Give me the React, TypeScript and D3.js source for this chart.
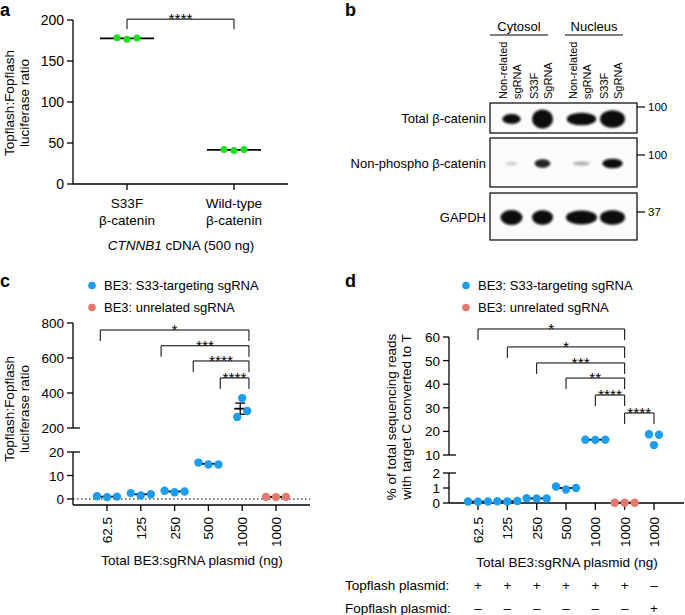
import React from "react";
import * as d3 from "d3";

const FONT = "'Liberation Sans', Arial, Helvetica, sans-serif";
const BLUE = "#1e9cf0";
const SALMON = "#e6776b";
const GREEN = "#1fe01f";

// ---------- Panel a ----------
const aLine1 = ["S33F", "Wild-type"];
const aLine2 = ["β-catenin", "β-catenin"];
const aValues = [[178.5, 176.5, 178], [42, 41, 42]];
const aTicks = [0, 50, 100, 150, 200];
const aBrackets = [{ from: 0, to: 1, level: 201, label: "****" }];

// ---------- Panel b ----------
const bGroups = ["Cytosol", "Nucleus"];
const bLaneLine1 = ["Non-related", "S33F"];
const bLaneLine2 = ["sgRNA", "SgRNA"];
const bBlots = ["Total β-catenin", "Non-phospho β-catenin", "GAPDH"];
const bMarkers = ["100", "100", "37"];
const bIntensity = [
  [0.45, 1.0, 0.6, 0.9],
  [0.04, 0.33, 0.08, 0.42],
  [0.75, 0.72, 0.68, 0.72],
];

// ---------- Panel c ----------
const cCategories = ["62.5", "125", "250", "500", "1000", "1000 "];
const cSeries = [0, 0, 0, 0, 0, 1];
const cValues = [
  [1.2, 0.8, 1.0],
  [2.5, 1.5, 2.0],
  [3.5, 2.9, 3.2],
  [15.5, 14.7, 14.7],
  [371, 263, 297],
  [0.9, 0.8, 0.9],
];
const cTicksLow = [0, 10, 20];
const cTicksHigh = [200, 400, 600, 800];
const cBrackets = [
  { from: -0.2, to: 4.2, level: 760, label: "*" },
  { from: 1.6, to: 4.2, level: 670, label: "***" },
  { from: 2.55, to: 4.2, level: 583, label: "****" },
  { from: 3.35, to: 4.2, level: 486, label: "****" },
];

// ---------- Panel d ----------
const dCategories = ["62.5", "125", "250", "500", "1000", "1000 ", "1000  "];
const dSeries = [0, 0, 0, 0, 0, 1, 0];
const dValues = [
  [0.1, 0.08, 0.1],
  [0.12, 0.1, 0.13],
  [0.32, 0.3, 0.3],
  [1.1, 0.9, 1.0],
  [16.5, 16.4, 16.5],
  [0.02, 0.02, 0.02],
  [18.8, 14.2, 18.6],
];
const dShowMean = [true, true, true, true, true, true, false];
const dTicksLow = [0, 1, 2];
const dTicksHigh = [10, 20, 30, 40, 50, 60];
const dBrackets = [
  { from: 0, to: 5, level: 63.4, label: "*" },
  { from: 1, to: 5, level: 55.8, label: "*" },
  { from: 2, to: 5, level: 49, label: "***" },
  { from: 3, to: 5, level: 42.6, label: "**" },
  { from: 4, to: 5, level: 35.4, label: "****" },
  { from: 5, to: 6, level: 27.8, label: "****" },
];
const dTopflash = ["+", "+", "+", "+", "+", "+", "–"];
const dFopflash = ["–", "–", "–", "–", "–", "–", "+"];

const legendLabels = ["BE3: S33-targeting sgRNA", "BE3: unrelated sgRNA"];
const seriesColors = [BLUE, SALMON];
const xTitle = "Total BE3:sgRNA plasmid (ng)";

function swarm(ys: number[], spacing: number, thresh: number): number[] {
  const order = ys.map((_, i) => i).sort((a, b) => ys[a] - ys[b]);
  const rows: number[][] = [];
  for (const i of order) {
    const row = rows[rows.length - 1];
    if (row && ys[i] - ys[row[0]] < thresh) row.push(i);
    else rows.push([i]);
  }
  const off = new Array(ys.length).fill(0);
  rows.forEach((row) => {
    row.sort((a, b) => a - b);
    row.forEach((i, k) => (off[i] = (k - (row.length - 1) / 2) * spacing));
  });
  return off;
}

function Group({ cx, vals, y, color, r, spacing, half, showMean, sem }: any) {
  const ys = vals.map((v: number) => y(v));
  const off = swarm(ys, spacing, 7);
  const mean = d3.mean(vals) as number;
  const sd = d3.deviation(vals) as number;
  const se = sd / Math.sqrt(vals.length);
  return (
    <g>
      {showMean && (
        <line x1={cx - half} x2={cx + half} y1={y(mean)} y2={y(mean)} stroke="#000" strokeWidth={1.8} />
      )}
      {sem && (
        <g stroke="#000" strokeWidth={1.3}>
          <line x1={cx - 2} x2={cx - 2} y1={y(mean + se)} y2={y(mean - se)} />
          <line x1={cx - 7} x2={cx + 3} y1={y(mean + se)} y2={y(mean + se)} />
          <line x1={cx - 7} x2={cx + 3} y1={y(mean - se)} y2={y(mean - se)} />
        </g>
      )}
      {vals.map((v: number, i: number) => (
        <circle key={i} cx={cx + off[i]} cy={ys[i]} r={r} fill={color} />
      ))}
    </g>
  );
}

function Bracket({ x1, x2, yTop, leg, label }: any) {
  return (
    <g>
      <path d={`M${x1},${yTop + leg}V${yTop}H${x2}V${yTop + leg}`} fill="none" stroke="#000" strokeWidth={1} />
      <text x={(x1 + x2) / 2} y={yTop + 5} textAnchor="middle" fontSize={15.5}>
        {label}
      </text>
    </g>
  );
}

function Legend({ x, y }: any) {
  return (
    <g fontSize={13}>
      {legendLabels.map((l, i) => (
        <g key={l}>
          <circle cx={x} cy={y + i * 22 - 4.5} r={3.8} fill={seriesColors[i]} />
          <text x={x + 12} y={y + i * 22}>
            {l}
          </text>
        </g>
      ))}
    </g>
  );
}

function PanelA() {
  const y = d3.scaleLinear().domain([0, 200]).range([184, 20]);
  const x = d3.scalePoint<string>().domain(aLine1).range([127, 234]);
  const ax = 73;
  return (
    <g>
      <text x={0} y={16} fontSize={18} fontWeight="bold">a</text>
      <g stroke="#000" strokeWidth={1.3}>
        <line x1={ax} x2={ax} y1={y(200)} y2={y(0)} />
        <line x1={ax} x2={288} y1={y(0)} y2={y(0)} />
        {aTicks.map((t) => (
          <line key={t} x1={ax - 6} x2={ax} y1={y(t)} y2={y(t)} />
        ))}
        {aLine1.map((c) => (
          <line key={c} x1={x(c)} x2={x(c)} y1={y(0)} y2={y(0) + 6} />
        ))}
      </g>
      {aTicks.map((t) => (
        <text key={t} x={ax - 9} y={y(t) + 5} textAnchor="end" fontSize={14}>
          {t}
        </text>
      ))}
      <g fontSize={13.5} textAnchor="middle">
        <text transform={`translate(13.5,${y(100) + 1}) rotate(-90)`}>Topflash:Fopflash</text>
        <text transform={`translate(28.5,${y(100) + 1}) rotate(-90)`}>luciferase ratio</text>
        {aLine1.map((c, i) => (
          <g key={c}>
            <text x={x(c)} y={208}>{c}</text>
            <text x={x(c)} y={225}>{aLine2[i]}</text>
          </g>
        ))}
        <text x={181} y={250}>
          <tspan fontStyle="italic">CTNNB1</tspan> cDNA (500 ng)
        </text>
      </g>
      {aBrackets.map((b, i) => (
        <Bracket key={i} x1={x(aLine1[b.from])} x2={x(aLine1[b.to])} yTop={y(b.level)} leg={10} label={b.label} />
      ))}
      {aValues.map((vals, i) => (
        <Group key={i} cx={x(aLine1[i])} vals={vals} y={y} color={GREEN} r={3.5} spacing={10} half={27} showMean />
      ))}
    </g>
  );
}

function PanelB() {
  const gx = d3.scalePoint<string>().domain(bGroups).range([527, 597]);
  const hx = d3.scalePoint<string>().domain(bGroups).range([519, 594]);
  const lanes: number[] = [];
  bGroups.forEach((g) => {
    lanes.push((gx(g) as number) - 15.5, (gx(g) as number) + 15.5);
  });
  const laneW = [22, 21, 31, 25];
  const rows = [
    [103, 133],
    [138, 187],
    [193, 240],
  ];
  const markerY = [107, 155, 212];
  const boxL = 490;
  const boxR = 637;
  return (
    <g>
      <defs>
        <filter id="blur" x="-50%" y="-50%" width="200%" height="200%">
          <feGaussianBlur stdDeviation={1.3} />
        </filter>
      </defs>
      <text x={345} y={16} fontSize={18} fontWeight="bold">b</text>
      {bGroups.map((g) => (
        <g key={g}>
          <text x={hx(g)} y={31} textAnchor="middle" fontSize={13}>{g}</text>
          <line x1={(hx(g) as number) - 29} x2={(hx(g) as number) + 29} y1={35} y2={35} stroke="#000" strokeWidth={1} />
        </g>
      ))}
      <g fontSize={11}>
        {lanes.map((lx, i) => (
          <g key={i}>
            <text transform={`translate(${lx - 9 + 4},99) rotate(-90)`}>{bLaneLine1[i % 2]}</text>
            <text transform={`translate(${lx + 5 + 4},99) rotate(-90)`}>{bLaneLine2[i % 2]}</text>
          </g>
        ))}
      </g>
      {bBlots.map((name, r) => {
        const [t, b] = rows[r];
        const cy = (t + b) / 2 + 1;
        return (
          <g key={name}>
            <rect x={boxL} y={t} width={boxR - boxL} height={b - t} fill="#fbfbfb" stroke="#000" strokeWidth={1.2} />
            <g filter="url(#blur)">
              {lanes.map((lx, i) => {
                const v = bIntensity[r][i];
                return (
                  <ellipse
                    key={i}
                    cx={lx}
                    cy={cy}
                    rx={(laneW[i] / 2) * (0.5 + 0.5 * Math.min(1, v * 1.5))}
                    ry={1.5 + 8 * v}
                    fill="#0a0a0a"
                    opacity={Math.min(1, 0.08 + 2.5 * v)}
                  />
                );
              })}
            </g>
            <text x={boxL - 4} y={cy + 4} textAnchor="end" fontSize={13}>{name}</text>
            <line x1={boxR} x2={boxR + 8} y1={markerY[r]} y2={markerY[r]} stroke="#000" strokeWidth={1.2} />
            <text x={boxR + 11} y={markerY[r] + 4} fontSize={11.5}>{bMarkers[r]}</text>
          </g>
        );
      })}
    </g>
  );
}

function PanelC() {
  const idx = d3.scaleLinear().domain([0, 5]).range([107, 276]);
  const x = d3.scalePoint<string>().domain(cCategories).range([107, 276]);
  const yLow = d3.scaleLinear().domain([0, 20]).range([499, 452]);
  const yHigh = d3.scaleLinear().domain([200, 800]).range([428, 323]);
  const yAny = (v: number) => (v >= 200 ? yHigh(v) : yLow(v));
  const ax = 73;
  const xAxisY = 505;
  return (
    <g>
      <text x={0} y={287} fontSize={18} fontWeight="bold">c</text>
      <Legend x={92} y={290} />
      <g stroke="#000" strokeWidth={1.3}>
        <line x1={ax} x2={ax} y1={yHigh(800)} y2={yHigh(200)} />
        <line x1={ax} x2={ax} y1={yLow(20)} y2={xAxisY} />
        <line x1={ax} x2={310} y1={xAxisY} y2={xAxisY} />
        {cTicksHigh.map((t) => (
          <line key={t} x1={ax - 6} x2={t === 200 ? ax + 7 : ax} y1={yHigh(t)} y2={yHigh(t)} />
        ))}
        {cTicksLow.map((t) => (
          <line key={t} x1={ax - 6} x2={t === 20 ? ax + 7 : ax} y1={yLow(t)} y2={yLow(t)} />
        ))}
        {cCategories.map((c) => (
          <line key={c} x1={x(c)} x2={x(c)} y1={xAxisY} y2={xAxisY + 6} />
        ))}
      </g>
      <line x1={ax} x2={310} y1={yLow(0)} y2={yLow(0)} stroke="#000" strokeWidth={1.2} strokeDasharray="1.5,2.5" />
      <g fontSize={13.5} textAnchor="end">
        {cTicksHigh.map((t) => (
          <text key={t} x={ax - 9} y={yHigh(t) + 5}>{t}</text>
        ))}
        {cTicksLow.map((t) => (
          <text key={t} x={ax - 9} y={yLow(t) + 5}>{t}</text>
        ))}
        {cCategories.map((c) => (
          <text key={c} transform={`translate(${(x(c) as number) + 5},517) rotate(-90)`}>{c.trim()}</text>
        ))}
      </g>
      <g fontSize={13.5} textAnchor="middle">
        <text transform={`translate(13.5,409) rotate(-90)`}>Topflash:Fopflash</text>
        <text transform={`translate(28.5,409) rotate(-90)`}>luciferase ratio</text>
        <text x={192} y={565}>{xTitle}</text>
      </g>
      {cBrackets.map((b, i) => (
        <Bracket key={i} x1={idx(b.from)} x2={idx(b.to)} yTop={yHigh(b.level)} leg={11} label={b.label} />
      ))}
      {cValues.map((vals, i) => (
        <Group
          key={i}
          cx={x(cCategories[i])}
          vals={vals}
          y={yAny}
          color={seriesColors[cSeries[i]]}
          r={4.2}
          spacing={10}
          half={vals[0] >= 200 ? 8 : 13}
          showMean
          sem={vals[0] >= 200}
        />
      ))}
    </g>
  );
}

function PanelD() {
  const x = d3.scalePoint<string>().domain(dCategories).range([478, 654]);
  const yLow = d3.scaleLinear().domain([0, 2]).range([503, 473]);
  const yHigh = d3.scaleLinear().domain([10, 60]).range([455, 337]);
  const yAny = (v: number) => (v >= 10 ? yHigh(v) : yLow(v));
  const ax = 449;
  const xAxisY = yLow(0);
  return (
    <g>
      <text x={345} y={287} fontSize={18} fontWeight="bold">d</text>
      <Legend x={466} y={290} />
      <g stroke="#000" strokeWidth={1.3}>
        <line x1={ax} x2={ax} y1={yHigh(60)} y2={yHigh(10)} />
        <line x1={ax} x2={ax} y1={yLow(2)} y2={xAxisY} />
        <line x1={ax} x2={684} y1={xAxisY} y2={xAxisY} />
        {dTicksHigh.map((t) => (
          <line key={t} x1={ax - 6} x2={t === 10 ? ax + 7 : ax} y1={yHigh(t)} y2={yHigh(t)} />
        ))}
        {dTicksLow.map((t) => (
          <line key={t} x1={ax - 6} x2={t === 2 ? ax + 7 : ax} y1={yLow(t)} y2={yLow(t)} />
        ))}
        {dCategories.map((c) => (
          <line key={c} x1={x(c)} x2={x(c)} y1={xAxisY} y2={xAxisY + 7} />
        ))}
      </g>
      <g fontSize={13.5} textAnchor="end">
        {dTicksHigh.map((t) => (
          <text key={t} x={ax - 9} y={yHigh(t) + 5}>{t}</text>
        ))}
        {dTicksLow.map((t) => (
          <text key={t} x={ax - 9} y={yLow(t) + 5}>{t}</text>
        ))}
        {dCategories.map((c) => (
          <text key={c} transform={`translate(${(x(c) as number) + 5},517) rotate(-90)`}>{c.trim()}</text>
        ))}
      </g>
      <g fontSize={13.5} textAnchor="middle">
        <text transform={`translate(395.5,417) rotate(-90)`}>% of total sequencing reads</text>
        <text transform={`translate(410.5,417) rotate(-90)`}>with target C converted to T</text>
        <text x={567} y={567}>{xTitle}</text>
      </g>
      <g fontSize={13.5}>
        <text x={345} y={590}>Topflash plasmid:</text>
        <text x={345} y={613}>Fopflash plasmid:</text>
        {dCategories.map((c, i) => (
          <g key={c} textAnchor="middle">
            <text x={x(c)} y={590}>{dTopflash[i]}</text>
            <text x={x(c)} y={613}>{dFopflash[i]}</text>
          </g>
        ))}
      </g>
      {dBrackets.map((b, i) => (
        <Bracket
          key={i}
          x1={x(dCategories[b.from])}
          x2={x(dCategories[b.to])}
          yTop={yHigh(b.level)}
          leg={11}
          label={b.label}
        />
      ))}
      {dValues.map((vals, i) => (
        <Group
          key={i}
          cx={x(dCategories[i])}
          vals={vals}
          y={yAny}
          color={seriesColors[dSeries[i]]}
          r={4.2}
          spacing={10}
          half={13}
          showMean={dShowMean[i]}
        />
      ))}
    </g>
  );
}

export default function App() {
  return (
    <svg
      width={685}
      height={615}
      viewBox="0 0 685 615"
      style={{ position: "absolute", left: 0, top: 0, background: "#fff" }}
      fontFamily={FONT}
    >
      <rect width={685} height={615} fill="#fff" />
      <PanelA />
      <PanelB />
      <PanelC />
      <PanelD />
    </svg>
  );
}
